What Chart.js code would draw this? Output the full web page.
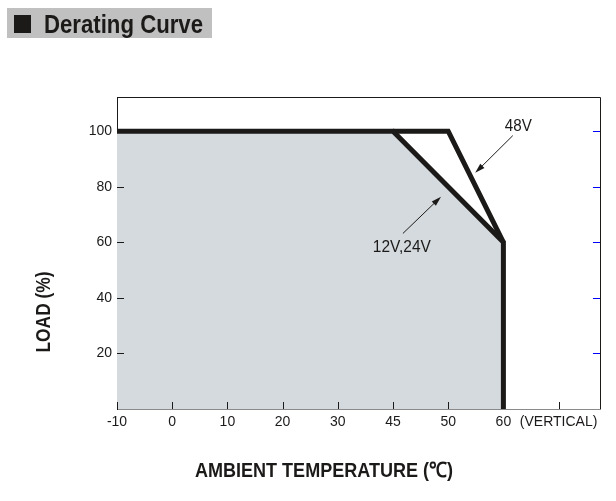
<!DOCTYPE html>
<html>
<head>
<meta charset="utf-8">
<script src="https://cdn.jsdelivr.net/npm/chart.js@4.4.1/dist/chart.umd.min.js"></script>
<style>
  html, body { margin: 0; padding: 0; background: #fff; }
  #wrap { width: 616px; height: 501px; }
</style>
</head>
<body>
<div id="wrap"><canvas id="chart" width="616" height="501"></canvas></div>
<script>
// tick labels along the temperature axis (evenly spaced, not to scale)
const tempLabels = ['-10', '0', '10', '20', '30', '45', '50', '60', '(VERTICAL)'];
const loadTicks = [20, 40, 60, 80, 100];

// curves, x given as position on the temperature axis above
const curve12v24v = [
  {x: 0, y: 100},
  {x: 5, y: 100},
  {x: 7, y: 60},
  {x: 7, y: 0}
];
const curve48v = [
  {x: 5, y: 100},
  {x: 6, y: 100},
  {x: 7, y: 60}
];

// arrow callouts: text spot and arrow ends, in axis units
const callouts = [
  {text: '48V', width: 27, label: {x: 7.27, y: 101.8}, from: {x: 7.17, y: 98.4}, to: {x: 6.49, y: 85.0}},
  {text: '12V,24V', width: 58, label: {x: 5.16, y: 58.0}, from: {x: 5.18, y: 63.2}, to: {x: 5.87, y: 76.4}}
];

const INK = '#1c1a19';
const SANS = '"Liberation Sans", Arial, sans-serif';

// draw text squeezed horizontally to a given width (the original uses a narrow face)
function fitText(ctx, text, x, y, width) {
  const w = ctx.measureText(text).width;
  ctx.save();
  ctx.translate(x, y);
  ctx.scale(Math.min(1, width / w), 1);
  ctx.fillText(text, 0, 0);
  ctx.restore();
}

function drawArrow(ctx, x1, y1, x2, y2) {
  const ang = Math.atan2(y2 - y1, x2 - x1);
  const len = 10, half = 3;
  ctx.beginPath();
  ctx.moveTo(x1, y1);
  ctx.lineTo(x2 - Math.cos(ang) * len * 0.8, y2 - Math.sin(ang) * len * 0.8);
  ctx.strokeStyle = INK;
  ctx.lineWidth = 1;
  ctx.stroke();
  ctx.beginPath();
  ctx.moveTo(x2, y2);
  ctx.lineTo(x2 - Math.cos(ang) * len - Math.sin(ang) * half, y2 - Math.sin(ang) * len + Math.cos(ang) * half);
  ctx.lineTo(x2 - Math.cos(ang) * len + Math.sin(ang) * half, y2 - Math.sin(ang) * len - Math.cos(ang) * half);
  ctx.closePath();
  ctx.fillStyle = INK;
  ctx.fill();
}

const decorations = {
  id: 'decorations',
  beforeDraw(chart) {
    const ctx = chart.ctx;
    ctx.save();
    // header block
    ctx.fillStyle = '#c0c0c0';
    ctx.fillRect(7, 8, 205, 30);
    ctx.fillStyle = INK;
    ctx.fillRect(14, 15, 17, 18);
    ctx.font = 'bold 25px ' + SANS;
    ctx.textBaseline = 'alphabetic';
    ctx.textAlign = 'left';
    fitText(ctx, 'Derating Curve', 44, 33, 159);
    ctx.restore();
  },
  afterDraw(chart) {
    const ctx = chart.ctx;
    const {left, right, top, bottom} = chart.chartArea;
    const xs = chart.scales.x, ys = chart.scales.y;
    ctx.save();

    // frame top and right
    ctx.strokeStyle = INK;
    ctx.lineWidth = 1;
    ctx.beginPath();
    ctx.moveTo(left, top + 0.5);
    ctx.lineTo(right + 0.5, top + 0.5);
    ctx.lineTo(right + 0.5, bottom);
    ctx.stroke();

    // inward ticks on left axis
    ctx.beginPath();
    loadTicks.forEach(v => {
      const y = Math.round(ys.getPixelForValue(v)) + 0.5;
      ctx.moveTo(left, y);
      ctx.lineTo(left + 7, y);
    });
    // inward ticks on bottom axis
    tempLabels.forEach((_, i) => {
      const x = Math.round(xs.getPixelForValue(i)) + 0.5;
      ctx.moveTo(x, bottom);
      ctx.lineTo(x, bottom - 7);
    });
    ctx.stroke();

    // blue ticks on right side
    ctx.strokeStyle = '#0000ff';
    ctx.beginPath();
    loadTicks.forEach(v => {
      const y = Math.round(ys.getPixelForValue(v)) + 0.5;
      ctx.moveTo(right, y);
      ctx.lineTo(right - 7, y);
    });
    ctx.stroke();

    // callouts
    ctx.font = '16px ' + SANS;
    ctx.textAlign = 'center';
    ctx.textBaseline = 'middle';
    ctx.fillStyle = INK;
    callouts.forEach(c => {
      fitText(ctx, c.text, xs.getPixelForValue(c.label.x), ys.getPixelForValue(c.label.y), c.width);
      drawArrow(ctx,
        xs.getPixelForValue(c.from.x), ys.getPixelForValue(c.from.y),
        xs.getPixelForValue(c.to.x), ys.getPixelForValue(c.to.y));
    });

    // axis titles
    ctx.font = 'bold 21px ' + SANS;
    fitText(ctx, 'AMBIENT TEMPERATURE (℃)', 324, 471, 258);
    ctx.translate(44, 312);
    ctx.rotate(-Math.PI / 2);
    fitText(ctx, 'LOAD (%)', 0, 0, 81);
    ctx.restore();
  }
};

new Chart(document.getElementById('chart'), {
  type: 'line',
  data: {
    datasets: [
      {
        label: '12V,24V',
        data: curve12v24v,
        borderColor: INK,
        borderWidth: 5,
        borderJoinStyle: 'miter',
        backgroundColor: '#d5dade',
        fill: 'origin',
        pointRadius: 0,
        tension: 0
      },
      {
        label: '48V',
        data: curve48v,
        borderColor: INK,
        borderWidth: 5,
        borderJoinStyle: 'miter',
        fill: false,
        pointRadius: 0,
        tension: 0
      }
    ]
  },
  options: {
    responsive: false,
    animation: false,
    devicePixelRatio: 1,
    layout: {padding: {top: 97, right: 16, left: 0, bottom: 0}},
    plugins: {legend: {display: false}, tooltip: {enabled: false}},
    scales: {
      x: {
        type: 'linear',
        min: 0,
        max: 8.75,
        afterBuildTicks: s => { s.ticks = tempLabels.map((_, i) => ({value: i})); },
        afterFit: s => { s.height = 92; },
        grid: {display: false, drawTicks: false},
        border: {color: '#8a8a8a', width: 1},
        ticks: {
          autoSkip: false,
          maxRotation: 0,
          padding: 5,
          color: INK,
          font: {family: SANS, size: 14},
          callback: v => tempLabels[v] ?? ''
        }
      },
      y: {
        min: 0,
        max: 112.3,
        afterBuildTicks: s => { s.ticks = loadTicks.map(v => ({value: v})); },
        afterFit: s => { s.width = 117; },
        grid: {display: false, drawTicks: false},
        border: {color: INK, width: 1},
        ticks: {
          padding: 5,
          color: INK,
          font: {family: SANS, size: 14}
        }
      }
    }
  },
  plugins: [decorations]
});
</script>
</body>
</html>
